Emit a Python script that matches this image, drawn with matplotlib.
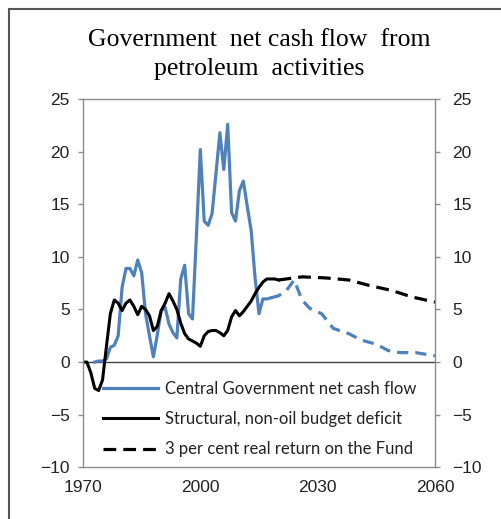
import matplotlib
matplotlib.use("Agg")
import matplotlib.pyplot as plt
from matplotlib.patches import Rectangle

# Central Government net cash flow (per cent), outturn
cash_years = [1973, 1974, 1975, 1976, 1977, 1978, 1979, 1980, 1981, 1982,
              1983, 1984, 1985, 1986, 1987, 1988, 1989, 1990, 1991, 1992,
              1993, 1994, 1995, 1996, 1997, 1998, 1999, 2000, 2001, 2002,
              2003, 2004, 2005, 2006, 2007, 2008, 2009, 2010, 2011, 2012,
              2013, 2014, 2015, 2016, 2017, 2018]
cash_vals = [0.0, 0.1, 0.1, 0.3, 1.4, 1.6, 2.5, 7.1, 8.9, 8.9,
             8.2, 9.7, 8.5, 4.6, 2.5, 0.5, 2.6, 4.9, 5.2, 3.6,
             2.8, 2.3, 7.9, 9.2, 4.6, 4.1, 12.0, 20.2, 13.4, 13.0,
             14.1, 17.9, 21.8, 18.3, 22.6, 14.2, 13.4, 16.3, 17.2, 14.8,
             12.5, 8.0, 4.6, 6.0, 6.0, 6.1]

# projection of net cash flow
cash_proj_years = [2018, 2020, 2022, 2024, 2026, 2028, 2031, 2034, 2038,
                   2041, 2045, 2048, 2051, 2055, 2060]
cash_proj_vals = [6.1, 6.3, 6.8, 7.8, 5.9, 5.1, 4.6, 3.2, 2.7,
                  2.1, 1.7, 1.1, 0.9, 0.9, 0.6]

# Structural, non-oil budget deficit
deficit_years = list(range(1970, 2021))
deficit_vals = [0.0, 0.0, -1.0, -2.5, -2.7, -1.7, 1.5, 4.6, 5.9, 5.6,
                4.9, 5.6, 5.9, 5.3, 4.5, 5.3, 5.0, 4.4, 3.0, 3.4,
                4.9, 5.6, 6.5, 5.8, 5.0, 3.7, 2.7, 2.2, 2.0, 1.8,
                1.5, 2.5, 2.9, 3.0, 3.0, 2.8, 2.5, 3.0, 4.3, 4.9,
                4.4, 4.8, 5.3, 5.8, 6.5, 7.1, 7.6, 7.9, 7.9, 7.9,
                7.8]

# 3 per cent real return on the Fund
fund_years = [2020, 2026, 2032, 2038, 2043, 2049, 2054, 2060]
fund_vals = [7.8, 8.1, 8.0, 7.8, 7.3, 6.8, 6.2, 5.7]

blue = "#4f81bd"
grey = "#8c8c8c"

fig = plt.figure(figsize=(5.02, 5.19), dpi=100)
ax = fig.add_axes([0.1653, 0.0996, 0.7012, 0.7096])

ax.plot(cash_years, cash_vals, color=blue, lw=2.3, solid_joinstyle="round",
        label="Central Government net cash flow")
ax.plot(deficit_years, deficit_vals, color="black", lw=2.2,
        solid_joinstyle="round", label="Structural, non-oil budget deficit")
ax.plot(fund_years, fund_vals, color="black", lw=2.3, dashes=(4, 2.2),
        label="3 per cent real return on the Fund")
ax.plot(cash_proj_years, cash_proj_vals, color=blue, lw=2.3, dashes=(3.5, 2.2))

ax.axhline(0, color="#404040", lw=1.0, zorder=1)
ax.set_xlim(1970, 2060)
ax.set_ylim(-10, 25)
ax.set_xticks([1970, 2000, 2030, 2060])
ax.set_yticks(range(-10, 26, 5))

for s in ax.spines.values():
    s.set_color(grey)
    s.set_linewidth(1.0)

ax.tick_params(axis="x", length=0, pad=9, labelsize=12.5, colors="#222222")
ax.tick_params(axis="y", length=3.5, width=1.0, color=grey, pad=6,
               labelsize=12.5, labelcolor="#222222")

ax2 = ax.twinx()
ax2.set_ylim(-10, 25)
ax2.set_yticks(range(-10, 26, 5))
ax2.tick_params(axis="y", length=3.5, width=1.0, color=grey, pad=9,
                labelsize=12.5, labelcolor="#222222")
for s in ax2.spines.values():
    s.set_visible(False)

for lab in ax.get_xticklabels() + ax.get_yticklabels() + ax2.get_yticklabels():
    lab.set_family("Liberation Sans")

leg = ax.legend(loc="upper left", bbox_to_anchor=(0.014, 0.275), frameon=False,
                handlelength=3.3, handletextpad=0.42, labelspacing=0.85,
                prop={"family": "Lato", "size": 12})
for t in leg.get_texts():
    t.set_color("#222222")

fig.text(0.516, 0.944, "Government  net cash flow  from\npetroleum  activities",
         ha="center", va="top", fontsize=18.5, family="Liberation Serif",
         linespacing=1.42)

# outer border of the chart box
fig.patches.append(Rectangle((9 / 502, -0.1), 1.2, 1 - 9 / 519 + 0.1,
                             transform=fig.transFigure, fill=False,
                             edgecolor="#555555", lw=1.5))

fig.savefig("out.png", dpi=100)
